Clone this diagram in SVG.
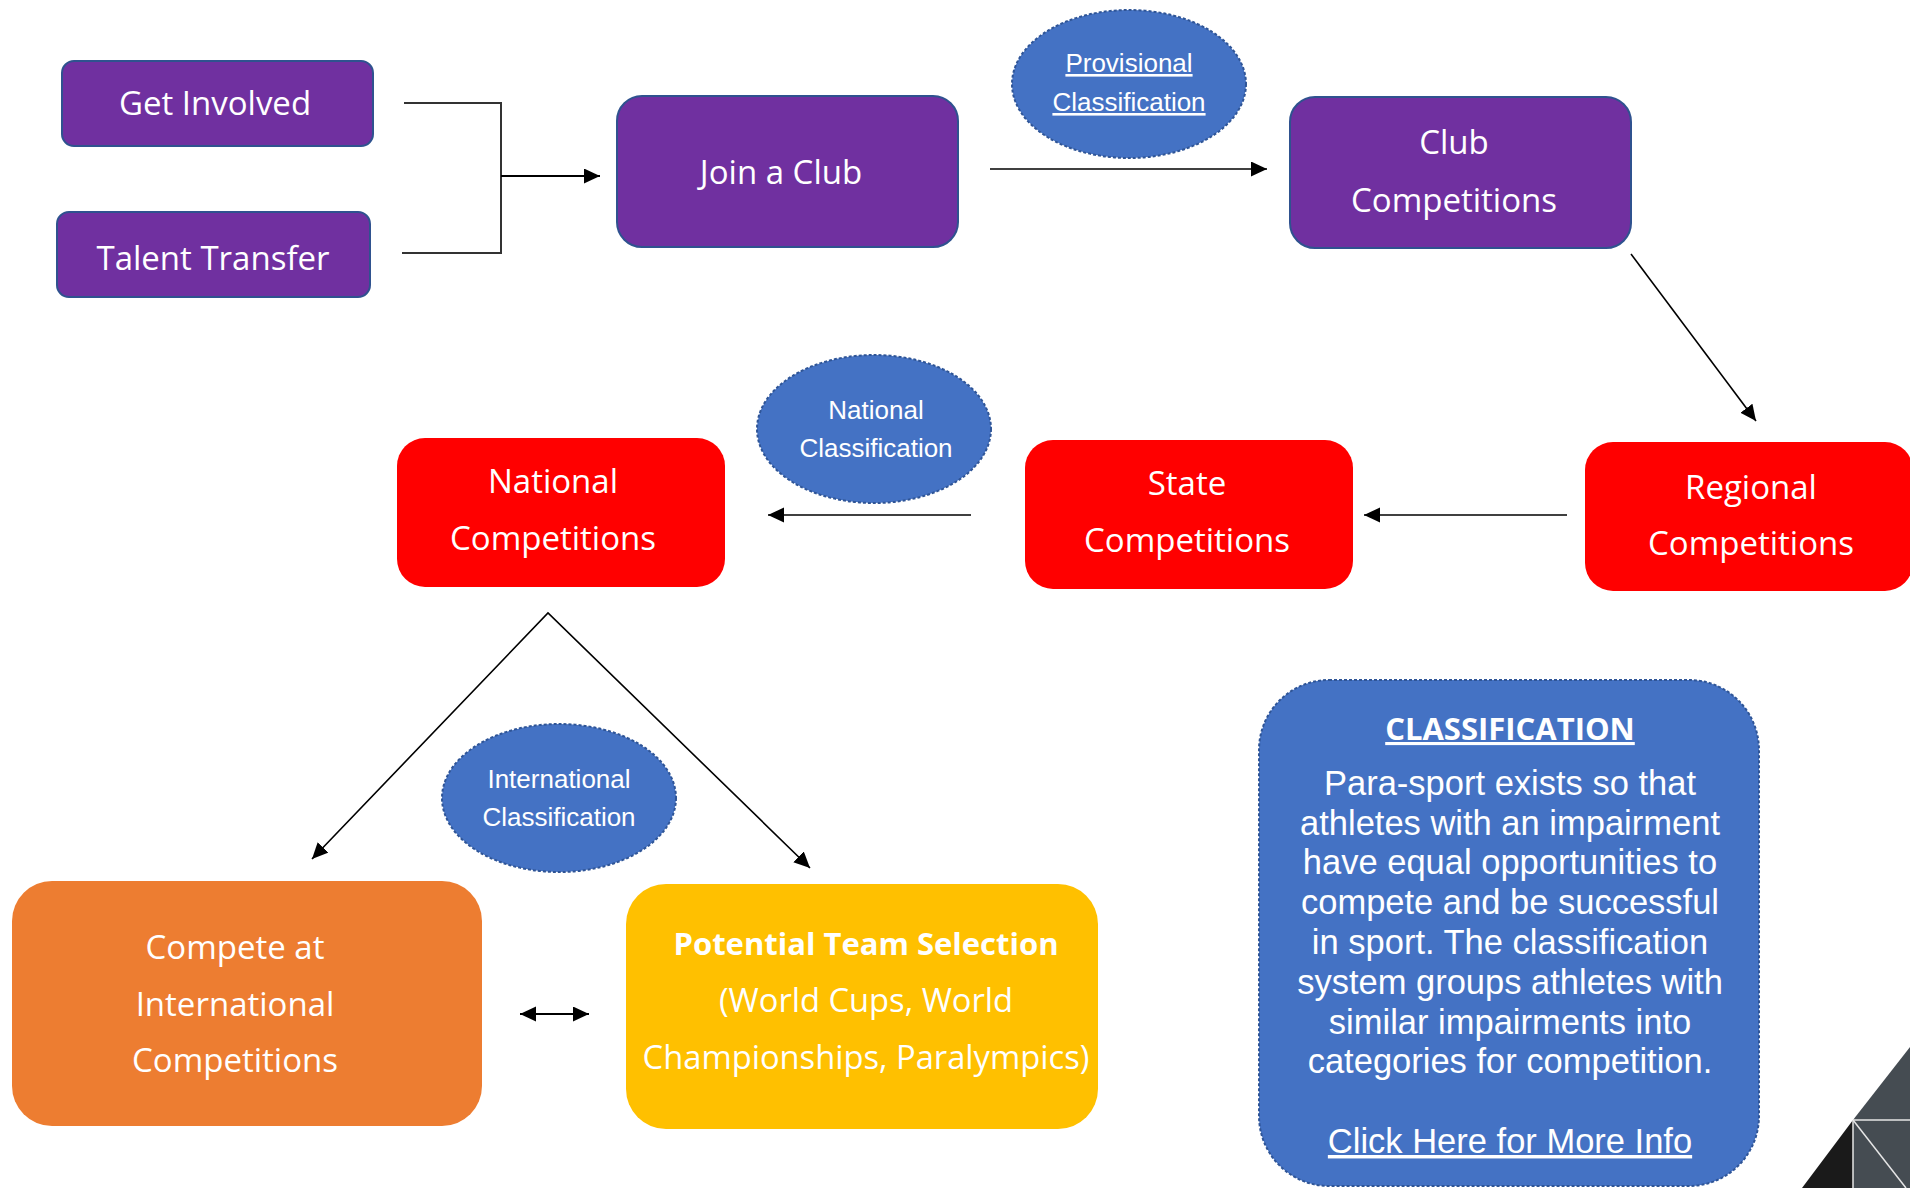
<svg xmlns="http://www.w3.org/2000/svg" width="1910" height="1188" viewBox="0 0 1910 1188">
<style>
.purple{fill:#7030A0;stroke:#2F528F;stroke-width:2}
.red{fill:#FF0000}
.orange{fill:#ED7D31}
.yellow{fill:#FFC000}
.oval{fill:#4472C4;stroke:#2F5597;stroke-width:2;stroke-dasharray:3 2}
.bt{font-family:"Open Sans",sans-serif;font-size:33px;fill:#fff;text-anchor:middle}
.ot{font-family:"Liberation Sans",Arial,sans-serif;font-size:26px;fill:#fff;text-anchor:middle}
.ct{font-family:"Liberation Sans",Arial,sans-serif;font-size:34.5px;fill:#fff;text-anchor:middle}
.conn{fill:none;stroke:#000;stroke-width:1.6}
</style>
<defs>
<marker id="ah" markerUnits="userSpaceOnUse" markerWidth="17" markerHeight="16" refX="16" refY="7.5" orient="auto-start-reverse">
<path d="M0,0 L16,7.5 L0,15 z" fill="#000"/>
</marker>
</defs>
<rect width="1910" height="1188" fill="#fff"/>

<g id="connectors">
<polyline class="conn" points="404,103 501,103 501,253 402,253" style="stroke:#333;stroke-width:2"/>
<line class="conn" x1="501" y1="176" x2="600" y2="176" style="stroke-width:2" marker-end="url(#ah)"/>
<line class="conn" x1="990" y1="169" x2="1267" y2="169" marker-end="url(#ah)"/>
<line class="conn" x1="1631" y1="254" x2="1756" y2="421" marker-end="url(#ah)"/>
<line class="conn" x1="1567" y1="515" x2="1364" y2="515" marker-end="url(#ah)"/>
<line class="conn" x1="971" y1="515" x2="768" y2="515" marker-end="url(#ah)"/>
<polyline class="conn" points="312,859 548,613 810,868" marker-start="url(#ah)" marker-end="url(#ah)"/>
<line class="conn" x1="520" y1="1014" x2="589" y2="1014" style="stroke-width:2" marker-start="url(#ah)" marker-end="url(#ah)"/>
</g>

<g id="get-involved">
<rect class="purple" x="62" y="61" width="311" height="85" rx="12"/>
<text class="bt" x="215" y="115">Get Involved</text>
</g>
<g id="talent-transfer">
<rect class="purple" x="57" y="212" width="313" height="85" rx="12"/>
<text class="bt" x="213" y="270">Talent Transfer</text>
</g>
<g id="join-club">
<rect class="purple" x="617" y="96" width="341" height="151" rx="25"/>
<text class="bt" x="781" y="184">Join a Club</text>
</g>
<g id="provisional-classification">
<ellipse class="oval" cx="1129" cy="84" rx="117" ry="74"/>
<text class="ot" x="1129" y="72" text-decoration="underline">Provisional</text>
<text class="ot" x="1129" y="111" text-decoration="underline">Classification</text>
</g>
<g id="club-competitions">
<rect class="purple" x="1290" y="97" width="341" height="151" rx="25"/>
<text class="bt" x="1454" y="154">Club</text>
<text class="bt" x="1454" y="212">Competitions</text>
</g>
<g id="regional-competitions">
<rect class="red" x="1585" y="442" width="328" height="149" rx="28"/>
<text class="bt" x="1751" y="499">Regional</text>
<text class="bt" x="1751" y="555">Competitions</text>
</g>
<g id="state-competitions">
<rect class="red" x="1025" y="440" width="328" height="149" rx="28"/>
<text class="bt" x="1187" y="495">State</text>
<text class="bt" x="1187" y="552">Competitions</text>
</g>
<g id="national-classification">
<ellipse class="oval" cx="874" cy="429" rx="117" ry="74"/>
<text class="ot" x="876" y="419">National</text>
<text class="ot" x="876" y="457">Classification</text>
</g>
<g id="national-competitions">
<rect class="red" x="397" y="438" width="328" height="149" rx="28"/>
<text class="bt" x="553" y="493">National</text>
<text class="bt" x="553" y="550">Competitions</text>
</g>
<g id="international-classification">
<ellipse class="oval" cx="559" cy="798" rx="117" ry="74"/>
<text class="ot" x="559" y="788">International</text>
<text class="ot" x="559" y="826">Classification</text>
</g>
<g id="compete-international">
<rect class="orange" x="12" y="881" width="470" height="245" rx="40"/>
<text class="bt" x="235" y="959">Compete at</text>
<text class="bt" x="235" y="1016">International</text>
<text class="bt" x="235" y="1072">Competitions</text>
</g>
<g id="team-selection">
<rect class="yellow" x="626" y="884" width="472" height="245" rx="40"/>
<text class="bt" x="866" y="955" style="font-weight:bold;font-size:31px">Potential Team Selection</text>
<text class="bt" x="866" y="1012" style="font-size:32.7px">(World Cups, World</text>
<text class="bt" x="866" y="1069" style="font-size:32.7px">Championships, Paralympics)</text>
</g>
<g id="classification-info">
<rect class="oval" x="1259" y="680" width="500" height="506" rx="70"/>
<text x="1510" y="740" font-family="Open Sans,sans-serif" font-weight="bold" font-size="31" fill="#fff" text-anchor="middle" text-decoration="underline">CLASSIFICATION</text>
<text class="ct" x="1510" y="795">Para-sport exists so that</text>
<text class="ct" x="1510" y="835">athletes with an impairment</text>
<text class="ct" x="1510" y="874">have equal opportunities to</text>
<text class="ct" x="1510" y="914">compete and be successful</text>
<text class="ct" x="1510" y="954">in sport. The classification</text>
<text class="ct" x="1510" y="994">system groups athletes with</text>
<text class="ct" x="1510" y="1034">similar impairments into</text>
<text class="ct" x="1510" y="1073">categories for competition.</text>
<text class="ct" x="1510" y="1153" text-decoration="underline">Click Here for More Info</text>
</g>

<g id="corner-decoration">
<polygon points="1910,1047 1853,1120 1910,1120" fill="#454C52"/>
<polygon points="1853,1120 1802,1188 1853,1188" fill="#1A1A1A"/>
<polygon points="1853,1120 1910,1120 1910,1188 1853,1188" fill="#454C52"/>
<line x1="1853" y1="1120" x2="1910" y2="1120" stroke="#e6e6e6" stroke-width="1.5"/>
<line x1="1853" y1="1120" x2="1853" y2="1188" stroke="#e6e6e6" stroke-width="1.5"/>
<line x1="1853" y1="1120" x2="1906" y2="1188" stroke="#e6e6e6" stroke-width="1.5"/>
</g>
</svg>
